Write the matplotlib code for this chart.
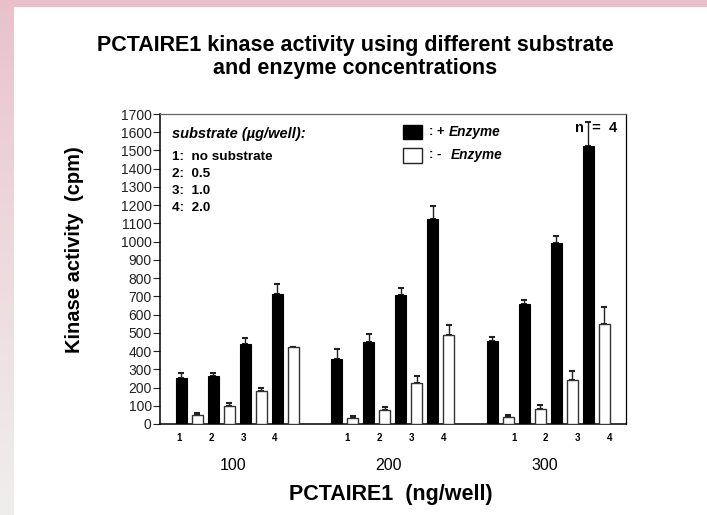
import numpy as np
import matplotlib
matplotlib.use('Agg')
import matplotlib.pyplot as plt
from matplotlib.patches import Rectangle

plt.rcParams['font.family'] = ['Liberation Sans', 'DejaVu Sans']

# data
groups = ['100', '200', '300']
substrate_labels = ['1', '2', '3', '4']
substrate_key = ['1:  no substrate', '2:  0.5', '3:  1.0', '4:  2.0']
plus_enzyme = [[250, 265, 440, 715], [355, 450, 710, 1125], [455, 660, 990, 1525]]
plus_err = [[30, 17, 30, 55], [55, 45, 35, 70], [20, 20, 40, 130]]
minus_enzyme = [[50, 100, 180, 420], [35, 77, 225, 490], [40, 85, 240, 548]]
minus_err = [[10, 15, 17, 0], [8, 15, 40, 55], [10, 18, 50, 93]]
yticks = list(range(0, 1701, 100))

fig = plt.figure(figsize=(7.07, 5.15), dpi=100, facecolor='white')

# pink/grey frame strips
bg = fig.add_axes([0, 0, 1, 1], zorder=-10)
bg.set_xlim(0, 707)
bg.set_ylim(515, 0)
bg.axis('off')
grad = np.linspace(0, 1, 256).reshape(-1, 1)
top_c = np.array([0.913, 0.753, 0.788])
bot_c = np.array([0.941, 0.933, 0.929])
img = top_c + (bot_c - top_c) * grad[:, :, None] ** 0.8
bg.imshow(img, extent=[0, 14, 515, 0], aspect='auto')
bg.add_patch(Rectangle((0, 0), 707, 7, color=top_c, lw=0))

ax = fig.add_axes([0.2263, 0.1767, 0.6591, 0.6019])

group_step = 9.72
first = 1.34
width = 0.69
for g in range(len(groups)):
    base = g * group_step + first
    xb = [base + 2 * i for i in range(4)]
    xw = [base + 2 * i + 1 for i in range(4)]
    ax.bar(xb, plus_enzyme[g], width=width, color='black', edgecolor='black', lw=0.8, zorder=3)
    ax.bar(xw, minus_enzyme[g], width=width, color='white', edgecolor='#333333', lw=1.0, zorder=3)
    ax.errorbar(xb, plus_enzyme[g], yerr=[np.zeros(4), plus_err[g]], fmt='none',
                ecolor='#222222', elinewidth=1, capsize=2.5, capthick=1.5, zorder=2)
    ax.errorbar(xw, minus_enzyme[g], yerr=[np.zeros(4), minus_err[g]], fmt='none',
                ecolor='#222222', elinewidth=1, capsize=2.5, capthick=1.5, zorder=2)

ax.set_xlim(0, 29.125)
ax.set_ylim(0, 1700)
ax.set_yticks(yticks)
ax.tick_params(axis='y', direction='out', length=5, width=0.8, labelsize=10, pad=1,
               colors='#222222')
ax.set_xticks([])
for s in ['left', 'bottom']:
    ax.spines[s].set_linewidth(1.1)
for s in ['top', 'right']:
    ax.spines[s].set_linewidth(0.9)
ax.spines['top'].set_color('#666666')

# substrate numbers and group labels below the axis
label_shift = [-0.15, 0.64, 1.32]
for g, name in enumerate(groups):
    base = g * group_step + first
    for i, lab in enumerate(substrate_labels):
        ax.text(base + 2 * i + label_shift[g], -75, lab, ha='center', va='center',
                fontsize=7, fontweight='bold')
    ax.text(base + 3.5 - 0.25, -230, name, ha='center', va='center', fontsize=11.5)

ax.text(0.496, -0.229, 'PCTAIRE1  (ng/well)', transform=ax.transAxes, ha='center',
        va='center', fontsize=15.5, fontweight='bold')
fig.text(0.106, 0.515, 'Kinase activity  (cpm)', rotation=90, ha='center', va='center',
         fontsize=14.5, fontweight='bold')

fig.text(0.502, 0.889, 'PCTAIRE1 kinase activity using different substrate\nand enzyme concentrations',
         ha='center', va='center', fontsize=15.5, fontweight='bold', linespacing=1.1)

# substrate key
ax.text(0.026, 0.937, 'substrate (\u00b5g/well):', transform=ax.transAxes, fontsize=10.5,
        fontweight='bold', style='italic', va='center')
for k, line in enumerate(substrate_key):
    ax.text(0.026, 0.86 - k * 0.0545, line, transform=ax.transAxes, fontsize=9.7,
            fontweight='bold', va='center')

# enzyme legend
ax.add_patch(Rectangle((0.521, 0.918), 0.041, 0.048, transform=ax.transAxes,
                       facecolor='black', edgecolor='black', lw=1, clip_on=False))
ax.add_patch(Rectangle((0.521, 0.842), 0.041, 0.048, transform=ax.transAxes,
                       facecolor='white', edgecolor='#222222', lw=1, clip_on=False))
ax.text(0.578, 0.942, ': +', transform=ax.transAxes, fontsize=9.5, fontweight='bold', va='center')
ax.text(0.62, 0.942, 'Enzyme', transform=ax.transAxes, fontsize=9.8, fontweight='bold',
        style='italic', va='center')
ax.text(0.578, 0.868, ': -', transform=ax.transAxes, fontsize=9.5, fontweight='bold', va='center')
ax.text(0.624, 0.868, 'Enzyme', transform=ax.transAxes, fontsize=9.8, fontweight='bold',
        style='italic', va='center')

ax.text(0.981, 0.955, 'n  =  4', transform=ax.transAxes, fontsize=10.5, fontweight='bold',
        ha='right', va='center', zorder=1)

fig.savefig('out.png', dpi=100)
